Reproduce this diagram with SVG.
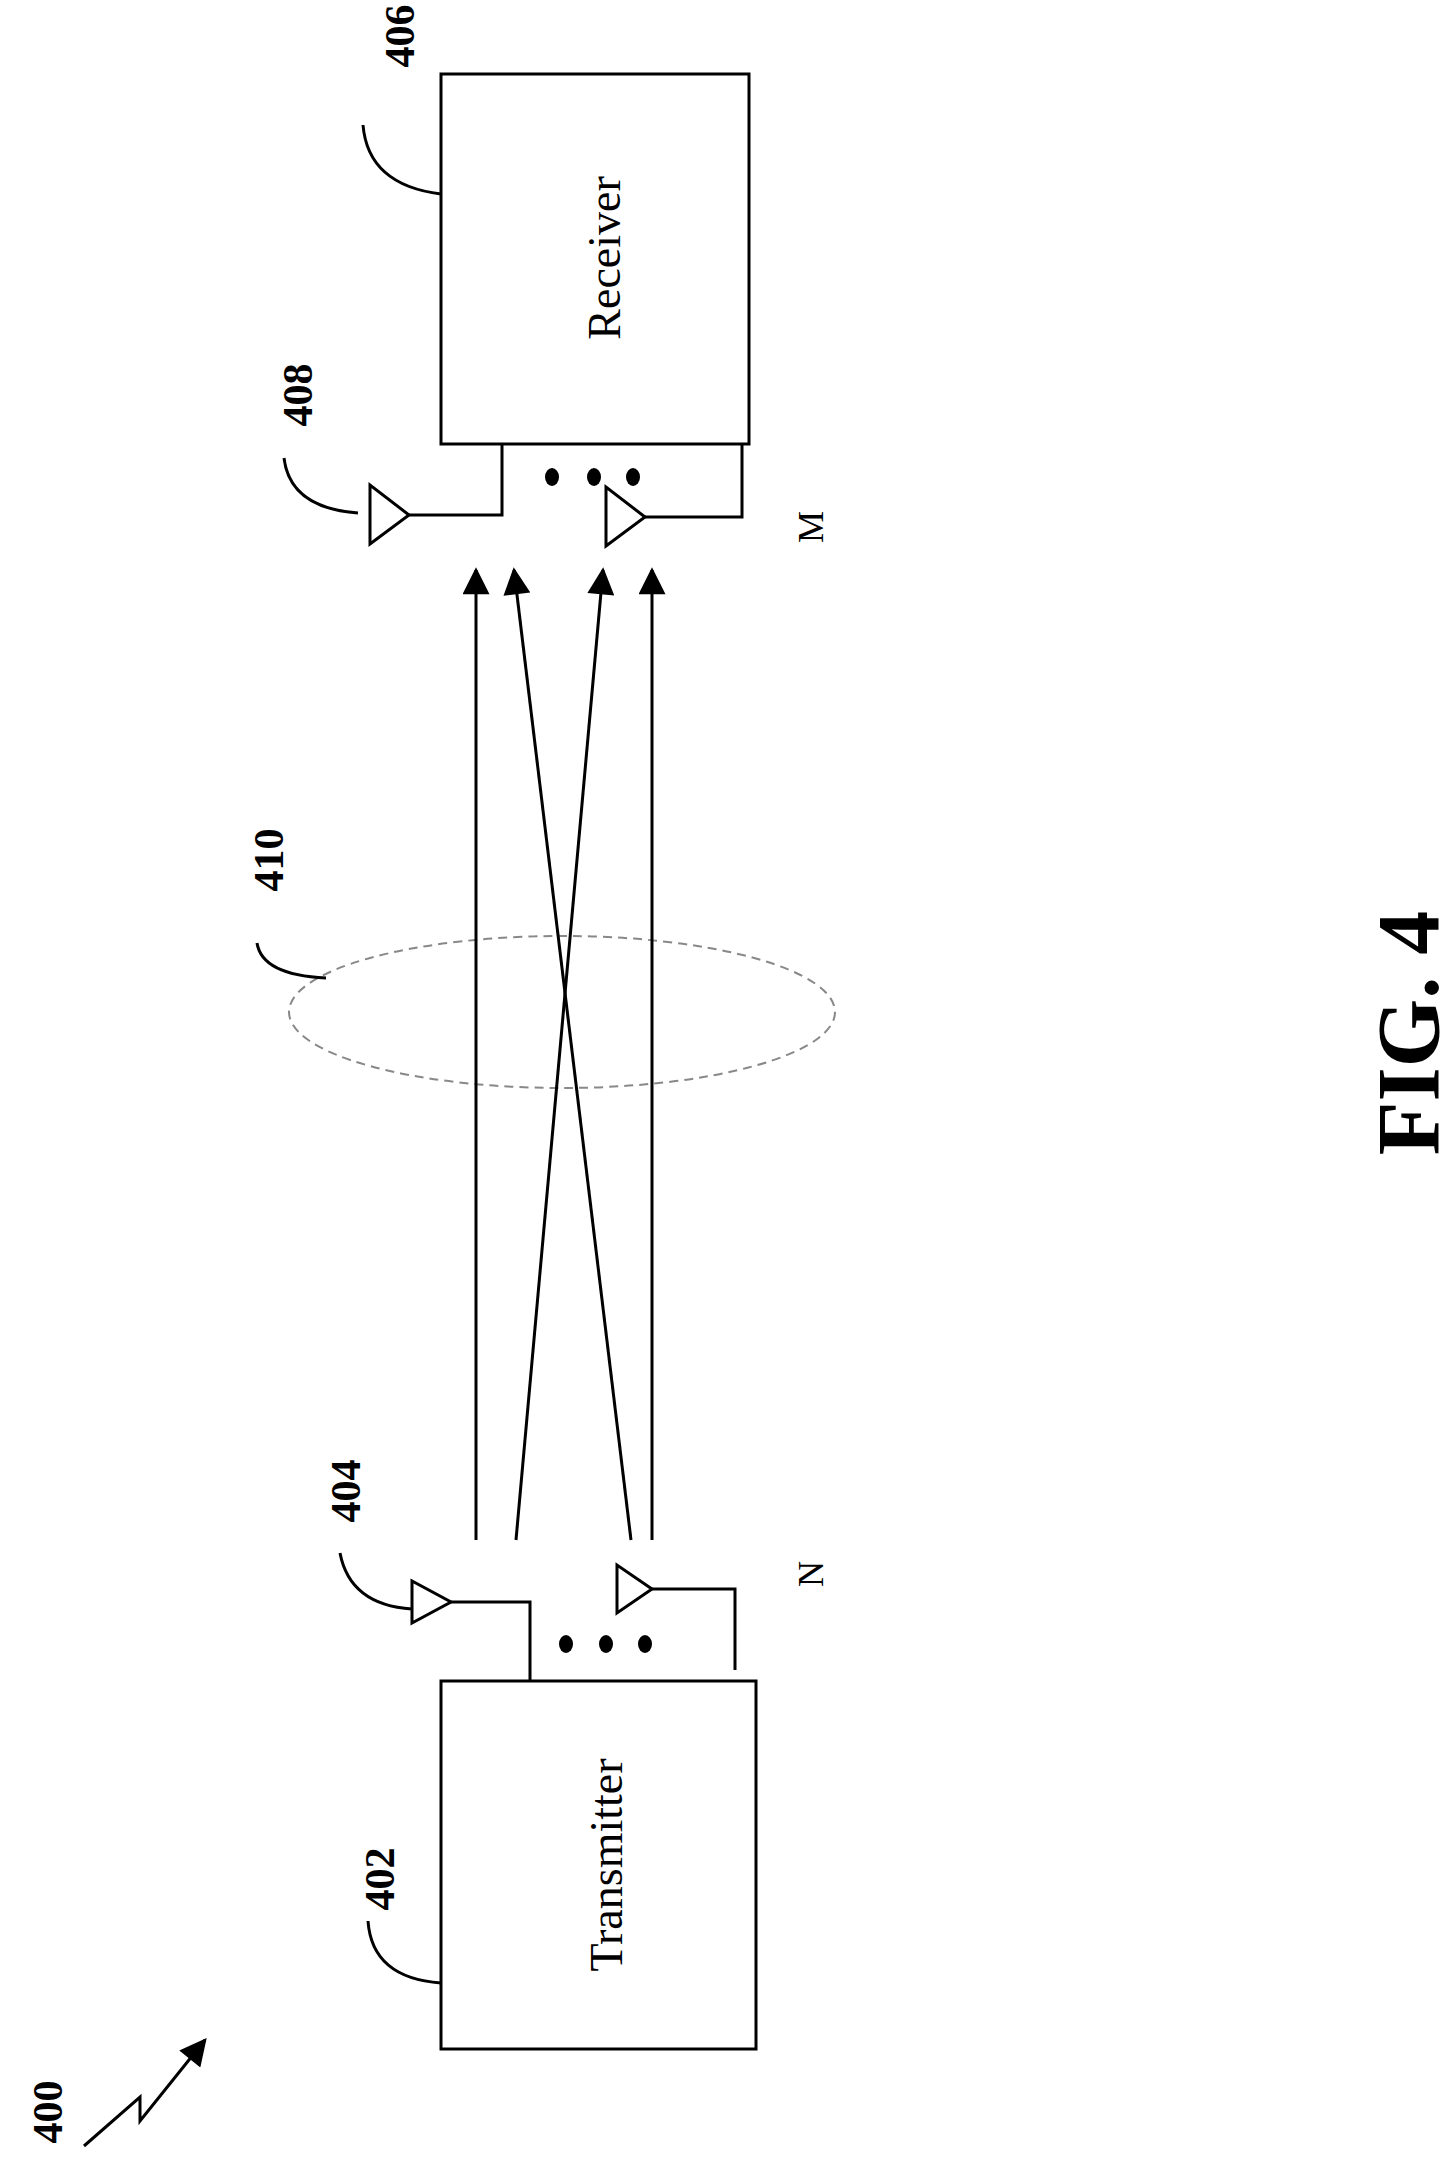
<svg xmlns="http://www.w3.org/2000/svg" width="1456" height="2159" viewBox="0 0 1456 2159">
<defs>
<style>
.s{fill:none;stroke:#000;stroke-width:3}
.t{font-family:"Liberation Serif",serif;fill:#000}
.b{font-family:"Liberation Serif",serif;font-weight:bold;fill:#000}
</style>
<marker id="ah" viewBox="0 0 10 10" refX="9" refY="5" markerWidth="13" markerHeight="9" orient="auto" markerUnits="strokeWidth"><path d="M0,0 L10,5 L0,10 z" fill="#000"/></marker>
</defs>
<rect width="1456" height="2159" fill="#fff"/>
<g id="receiver">
<rect class="s" x="441" y="74" width="308" height="370"/>
<text class="t" font-size="46" text-anchor="middle" transform="translate(620,258) rotate(-90)">Receiver</text>
</g>
<g id="label406"><text class="b" font-size="42" text-anchor="middle" transform="translate(414,36) rotate(-90)">406</text><path class="s" d="M363,125 Q368,185 441,194"/></g>
<g id="rx-antennas">
<polygon class="s" points="370,485 370,544 409,515"/>
<polyline class="s" points="409,515 502,515 502,444"/>
<polygon class="s" points="606,487 606,546 645,517"/>
<polyline class="s" points="645,517 742,517 742,444"/>
<ellipse cx="552" cy="477" rx="7" ry="9"/><ellipse cx="594" cy="477" rx="7" ry="9"/><ellipse cx="633" cy="477" rx="7" ry="9"/>
<text class="t" font-size="36" text-anchor="middle" transform="translate(823,527) rotate(-90)">M</text>
</g>
<g id="label408"><text class="b" font-size="42" text-anchor="middle" transform="translate(312,395) rotate(-90)">408</text><path class="s" d="M284,458 Q290,508 358,513"/></g>
<g id="transmitter">
<rect class="s" x="441" y="1681" width="315" height="368"/>
<text class="t" font-size="46" text-anchor="middle" transform="translate(622,1865) rotate(-90)">Transmitter</text>
</g>
<g id="label402"><text class="b" font-size="42" text-anchor="middle" transform="translate(394,1879) rotate(-90)">402</text><path class="s" d="M368,1921 Q372,1978 441,1983"/></g>
<g id="tx-antennas">
<polygon class="s" points="412,1581 412,1623 451,1602"/>
<polyline class="s" points="451,1602 530,1602 530,1681"/>
<polygon class="s" points="617,1565 617,1613 652,1589"/>
<polyline class="s" points="652,1589 735,1589 735,1670"/>
<ellipse cx="566" cy="1644" rx="7" ry="9"/><ellipse cx="606" cy="1644" rx="7" ry="9"/><ellipse cx="645" cy="1644" rx="7" ry="9"/>
<text class="t" font-size="36" text-anchor="middle" transform="translate(823,1574) rotate(-90)">N</text>
</g>
<g id="label404"><text class="b" font-size="42" text-anchor="middle" transform="translate(360,1491) rotate(-90)">404</text><path class="s" d="M340,1553 Q350,1605 412,1609"/></g>
<g id="channel">
<ellipse cx="562" cy="1012" rx="273" ry="76" fill="none" stroke="#888" stroke-width="2" stroke-dasharray="9,6"/>
<text class="b" font-size="42" text-anchor="middle" transform="translate(283,860) rotate(-90)">410</text>
<path class="s" d="M257,943 Q262,975 326,978"/>
</g>
<g id="connectors">
<line class="s" x1="476" y1="1540" x2="476" y2="570" marker-end="url(#ah)"/>
<line class="s" x1="516" y1="1540" x2="603" y2="570" marker-end="url(#ah)"/>
<line class="s" x1="631" y1="1540" x2="514" y2="570" marker-end="url(#ah)"/>
<line class="s" x1="652" y1="1540" x2="652" y2="570" marker-end="url(#ah)"/>
</g>
<g id="label400">
<text class="b" font-size="42" text-anchor="middle" transform="translate(62,2112) rotate(-90)">400</text>
<polyline class="s" points="84,2146 140,2097 140,2121 205,2040" marker-end="url(#ah)"/>
</g>
<text class="b" font-size="88" text-anchor="middle" transform="translate(1438,1033) rotate(-90)">FIG. 4</text>
</svg>
